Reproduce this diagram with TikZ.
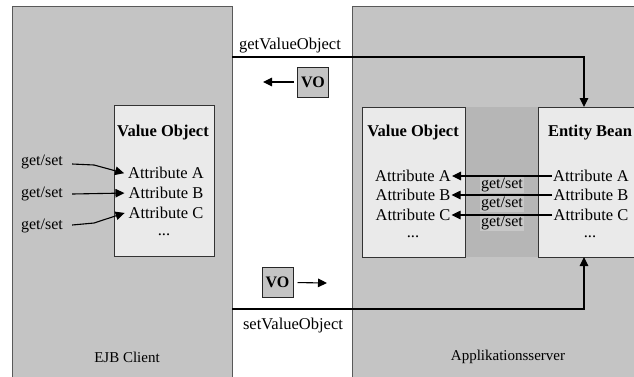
\documentclass[tikz,border=0pt]{standalone}
\usepackage{fontspec}
\setmainfont{Liberation Serif}
\usetikzlibrary{arrows.meta}
\definecolor{panelgray}{RGB}{196,196,196}
\definecolor{stripgray}{RGB}{182,182,182}
\definecolor{labelgray}{RGB}{200,200,200}
\definecolor{boxgray}{RGB}{234,234,234}
\tikzset{
  panel/.style={draw=black!65, fill=panelgray, line width=0.9pt, inner sep=0pt, outer sep=0pt},
  objbox/.style={draw=black!80, fill=boxgray, line width=1pt, inner sep=0pt, outer sep=0pt},
  txt/.style={font=\fontsize{16.5}{18}\selectfont, inner sep=1pt},
  ttl/.style={font=\bfseries\fontsize{16.5}{18}\selectfont, inner sep=1pt},
  lbl/.style={font=\fontsize{16}{18}\selectfont, inner sep=1pt},
  tier/.style={font=\fontsize{15}{17}\selectfont, inner sep=1pt},
  flow/.style={line width=1.1pt, -{Triangle[length=9pt,width=8.5pt]}},
  vobox/.style={draw=black!85, fill=panelgray, line width=1pt, inner sep=0pt,
    minimum width=31pt, minimum height=30pt, font=\bfseries\fontsize{16}{18}\selectfont}
}
\begin{document}
\begin{tikzpicture}[x=1pt,y=-1pt]
\useasboundingbox (0,0) rectangle (634,376);
\clip (0,0) rectangle (634,376);
\fill[white] (0,0) rectangle (634,376);

% the two tiers
\node[panel, minimum width=220pt, minimum height=374pt] (client) at (122,193) {};
\node[panel, minimum width=288pt, minimum height=374pt] (server) at (496,193) {};
\node[tier] (clientlbl) at (127,357) {EJB Client};
\node[tier] (serverlbl) at (508,357) {Applikationsserver};

% client side value object
\node[objbox, minimum width=100pt, minimum height=151pt] (cvo) at (164,180.5) {};
\node[ttl] (cvot) at (163,133) {Value Object};
\node[txt] (ca) at (166,173) {Attribute A};
\node[txt] (cb) at (166,193) {Attribute B};
\node[txt] (cc) at (166,213) {Attribute C};
\node[txt] (cd) at (164,235) {...};
\node[lbl] (g1) at (42,162) {get/set};
\node[lbl] (g2) at (42,194) {get/set};
\node[lbl] (g3) at (42,226) {get/set};
\draw[flow, shorten >=3pt] (g1.east) ++(8,2) -- ++(22,1) -- ([yshift=-1]ca.west);
\draw[flow, shorten >=3pt] (g2.east) ++(8,0) -- (cb.west);
\draw[flow, shorten >=3pt] (g3.east) ++(8,-1) -- ++(22,-2) -- ([yshift=1]cc.west);

% server side: value object and entity bean
\node[fill=stripgray, inner sep=0pt, minimum width=73pt, minimum height=150pt] (strip) at (501.5,182) {};
\node[objbox, minimum width=103pt, minimum height=150pt] (svo) at (413.5,182) {};
\node[objbox, minimum width=102pt, minimum height=150pt] (eb) at (589,182) {};
\node[ttl] (svot) at (413,133) {Value Object};
\node[txt] (sa) at (413,176) {Attribute A};
\node[txt] (sb) at (413,195) {Attribute B};
\node[txt] (sc) at (413,215) {Attribute C};
\node[txt] (sd) at (413,237) {...};
\node[ttl] (ebt) at (590,133) {Entity Bean};
\node[txt] (ea) at (591,176) {Attribute A};
\node[txt] (eb2) at (591,195) {Attribute B};
\node[txt] (ec) at (591,215) {Attribute C};
\node[txt] (ed) at (590,237) {...};
\node[lbl, fill=labelgray] (m1) at (502,185) {get/set};
\node[lbl, fill=labelgray] (m2) at (502,204) {get/set};
\node[lbl, fill=labelgray] (m3) at (502,223) {get/set};
\draw[flow] (ea.west) -- (sa.east);
\draw[flow] (eb2.west) -- (sb.east);
\draw[flow] (ec.west) -- (sc.east);

% remote calls between the tiers
\coordinate (getstart) at (232,57);
\coordinate (getcorner) at (584,57);
\coordinate (setstart) at (232,309);
\coordinate (setcorner) at (584,309);
\draw[flow] (getstart) -- (getcorner) -- (getcorner |- eb.north);
\draw[flow] (setstart) -- (setcorner) -- (setcorner |- eb.south);
\node[txt] (getlbl) at (290,46) {getValueObject};
\node[txt] (setlbl) at (293,326) {setValueObject};

% transferred value objects
\node[vobox] (vo1) at (313,82) {VO};
\coordinate (vo1tip) at (263,82);
\draw[flow, shorten <=3pt] (vo1.west) -- (vo1tip);
\node[vobox] (vo2) at (277.5,282.5) {VO};
\coordinate (vo2tip) at (327,283);
\draw[flow, shorten <=4pt] (vo2.east) -- (vo2tip);
\end{tikzpicture}
\end{document}
